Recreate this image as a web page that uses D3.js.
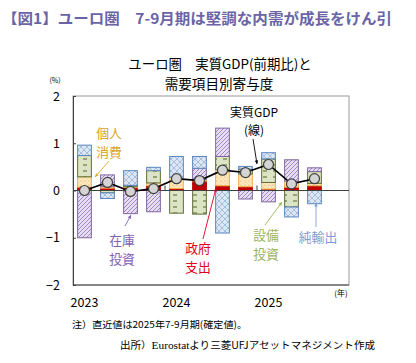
<!DOCTYPE html>
<html><head><meta charset="utf-8">
<script src="https://cdn.jsdelivr.net/npm/d3@7"></script>
<style>
body{margin:0;background:#fff;}
svg{display:block;}
text{font-family:"Noto Sans CJK JP","Noto Sans",sans-serif;}
</style></head>
<body><svg id="c" width="416" height="363"></svg>
<script>
const quarters = ["2023Q1","2023Q2","2023Q3","2023Q4","2024Q1","2024Q2","2024Q3","2024Q4","2025Q1","2025Q2","2025Q3"];
const gdp       = [0.00, 0.17, -0.02, 0.04, 0.25, 0.21, 0.43, 0.38, 0.55, 0.14, 0.25];
const gov       = [0.07, 0.05, 0.06, 0.10, 0.04, 0.20, 0.10, 0.08, 0.03, 0.07, 0.10];
const cons      = [0.22, 0.03, 0.02, 0.06, 0.24, 0.03, 0.34, 0.27, 0.14, 0.13, 0.05];
const invest    = [0.45, -0.05, 0.03, 0.26, -0.48, -0.50, 0.28, 0.10, 0.50, -0.35, 0.25];
const inventory = [-1.00, 0.25, -0.49, -0.45, 0.00, 0.24, 0.60, -0.18, -0.24, 0.45, 0.08];
const netexp    = [0.22, -0.12, 0.31, 0.07, 0.44, 0.25, -0.90, 0.06, 0.13, -0.21, -0.28];
const yearLabels = ["2023","2024","2025"];
const yTicks = [-2,-1,0,1,2];

const svg = d3.select("#c");
const defs = svg.append("defs");
function pat(id, w, h, bg, draw){
  const p = defs.append("pattern").attr("id",id).attr("patternUnits","userSpaceOnUse").attr("width",w).attr("height",h);
  p.append("rect").attr("width",w).attr("height",h).attr("fill",bg);
  draw(p);
}
pat("pCons",4,4,"#fde8bd",p=>{p.append("circle").attr("cx",1).attr("cy",1).attr("r",0.55).attr("fill","#e39a3c");
  p.append("circle").attr("cx",3).attr("cy",3).attr("r",0.45).attr("fill","#eab06a");});
pat("pInv",10,6,"#dde4c6",p=>{p.append("line").attr("x1",3).attr("x2",7).attr("y1",3).attr("y2",3).attr("stroke","#4f6228").attr("stroke-width",1);});
pat("pStock",4,4,"#e6def3",p=>{p.append("path").attr("d","M-1,1 l2,-2 M0,4 l4,-4 M3,5 l2,-2").attr("stroke","#8a70b5").attr("stroke-width",0.8);});
pat("pNet",6,6,"#dde7f3",p=>{p.append("path").attr("d","M0,0 L6,6 M6,0 L0,6").attr("stroke","#8eaad6").attr("stroke-width",0.7);});

const series = [
  {key:"gov", vals:gov, fill:"#c00000", stroke:"#c00000"},
  {key:"cons", vals:cons, fill:"url(#pCons)", stroke:"#f0b050"},
  {key:"invest", vals:invest, fill:"url(#pInv)", stroke:"#5d6e35"},
  {key:"stock", vals:inventory, fill:"url(#pStock)", stroke:"#8064a2"},
  {key:"net", vals:netexp, fill:"url(#pNet)", stroke:"#5b86c0"}
];

const L=73, R=349, T=96, B=285;
const slots = quarters.concat(["_"]);
const x = d3.scaleBand().domain(slots).range([L,R]).paddingInner(0.36).paddingOuter(0.18);
const y = d3.scaleLinear().domain([-2,2]).range([B,T]);

// Titles
svg.append("text").attr("x",2).attr("y",24).attr("font-size",14.4).attr("font-weight","bold").attr("fill","#6a64a6")
  .attr("textLength",390).attr("lengthAdjust","spacingAndGlyphs")
  .text("【図1】ユーロ圏　7-9月期は堅調な内需が成長をけん引");
svg.append("text").attr("x",220).attr("y",69).attr("text-anchor","middle").attr("font-size",13.4).attr("fill","#000").text("ユーロ圏　実質GDP(前期比)と");
svg.append("text").attr("x",219).attr("y",89).attr("text-anchor","middle").attr("font-size",13.6).attr("fill","#000").text("需要項目別寄与度");
svg.append("text").attr("x",55).attr("y",83).attr("text-anchor","middle").attr("font-size",7).attr("fill","#000").text("(%)");

// frame
svg.append("rect").attr("x",L).attr("y",T).attr("width",R-L).attr("height",B-T).attr("fill","none").attr("stroke","#9a9a9a").attr("stroke-width",1);
svg.append("line").attr("x1",L).attr("x2",R).attr("y1",B).attr("y2",B).attr("stroke","#404040");

// y axis
const yAxis = d3.axisLeft(y).tickValues(yTicks).tickSize(-3).tickPadding(13).tickFormat(d3.format("d"));
const ga = svg.append("g").attr("transform",`translate(${L},0)`).call(yAxis);
ga.select(".domain").attr("stroke","#404040");
ga.selectAll(".tick line").attr("stroke","#404040");
ga.selectAll("text").attr("font-size",12.5).attr("fill","#000").attr("font-family","Liberation Sans, Arial, sans-serif");

// stacked bars
const posBase = quarters.map(()=>0), negBase = quarters.map(()=>0);
series.forEach(s=>{
  const g = svg.append("g");
  quarters.forEach((q,i)=>{
    const v = s.vals[i];
    if(v===0) return;
    let y0,y1;
    if(v>0){y0=posBase[i]; y1=y0+v; posBase[i]=y1;} else {y0=negBase[i]; y1=y0+v; negBase[i]=y1;}
    g.append("rect").attr("x",x(q)+0.5).attr("width",x.bandwidth()-1)
      .attr("y",y(Math.max(y0,y1))).attr("height",Math.abs(y(y0)-y(y1)))
      .attr("fill",s.fill).attr("stroke",s.stroke).attr("stroke-width",1);
  });
});

// zero line
svg.append("line").attr("x1",L).attr("x2",R).attr("y1",y(0)).attr("y2",y(0)).attr("stroke","#404040").attr("stroke-width",1);
[4,8].forEach(k=>{
  const xx = x(slots[k]) - x.step()*x.paddingInner()/2;
  svg.append("line").attr("x1",xx).attr("x2",xx).attr("y1",y(0)).attr("y2",y(0)-5).attr("stroke","#404040");
});

// GDP line
const cx = q=>x(q)+x.bandwidth()/2;
svg.append("path").attr("fill","none").attr("stroke","#000").attr("stroke-width",1.6)
  .attr("d",d3.line().x(q=>cx(q)).y((q,i)=>y(gdp[i]))(quarters));
svg.selectAll("circle.g").data(quarters).enter().append("circle").attr("class","g")
  .attr("cx",q=>cx(q)).attr("cy",(q,i)=>y(gdp[i])).attr("r",5)
  .attr("fill","#d4d4d4").attr("stroke","#404040").attr("stroke-width",1.2);

// x labels
yearLabels.forEach((yl,k)=>{
  svg.append("text").attr("x",cx(quarters[k*4])).attr("y",307).attr("text-anchor","middle").attr("font-size",12.5)
    .attr("font-family","Liberation Sans, Arial, sans-serif").attr("fill","#000").text(yl);
});
svg.append("text").attr("x",341).attr("y",296).attr("text-anchor","middle").attr("font-size",8).attr("fill","#000").text("(年)");

// annotations
function label(lines, xx, yy, col, fs, gap){
  const t = svg.append("text").attr("x",xx).attr("y",yy).attr("text-anchor","middle").attr("font-size",fs).attr("fill",col);
  lines.forEach((s,i)=>t.append("tspan").attr("x",xx).attr("dy",i===0?0:gap).text(s));
}
function arrow(x1,y1,x2,y2,col){
  svg.append("line").attr("x1",x1).attr("y1",y1).attr("x2",x2).attr("y2",y2).attr("stroke",col).attr("stroke-width",0.9);
  const a=Math.atan2(y2-y1,x2-x1), s=4;
  svg.append("path").attr("d",`M${x2},${y2} L${x2-s*Math.cos(a-0.45)},${y2-s*Math.sin(a-0.45)} L${x2-s*Math.cos(a+0.45)},${y2-s*Math.sin(a+0.45)} Z`).attr("fill",col);
}
const FS=12.8, GAP=18.8;
label(["個人","消費"],109,138,"#d9a21b",FS,GAP);
arrow(109,161,95,177,"#e0a830");
label(["実質GDP","(線)"],254,117,"#000",12,17.6);
arrow(253,139,257,164,"#000");
label(["在庫","投資"],122,245,"#7f62b0",FS,GAP);
arrow(125,226,131,215,"#7f62b0");
label(["政府","支出"],198,253,"#e0001b",FS,GAP);
arrow(203,239,216,188,"#e0001b");
label(["設備","投資"],266,240,"#9bb35a",FS,GAP);
arrow(265,225,282,202,"#9bb35a");
label(["純輸出"],318,242,"#7f9ccf",FS,GAP);
arrow(316,227,316,203,"#7f9ccf");

// notes
svg.append("text").attr("x",72).attr("y",328).attr("font-size",9.6).attr("fill","#000")
  .attr("textLength",175).attr("lengthAdjust","spacingAndGlyphs").text("注）直近値は2025年7-9月期(確定値)。");
const src = svg.append("text").attr("x",120).attr("y",349).attr("font-size",9.8).attr("fill","#000")
  .attr("textLength",255).attr("lengthAdjust","spacingAndGlyphs");
src.append("tspan").text("出所）");
src.append("tspan").attr("font-family","Liberation Serif, Times New Roman, serif").attr("font-size",10.5).text("Eurostat");
src.append("tspan").text("より三菱UFJアセットマネジメント作成");
</script></body></html>
